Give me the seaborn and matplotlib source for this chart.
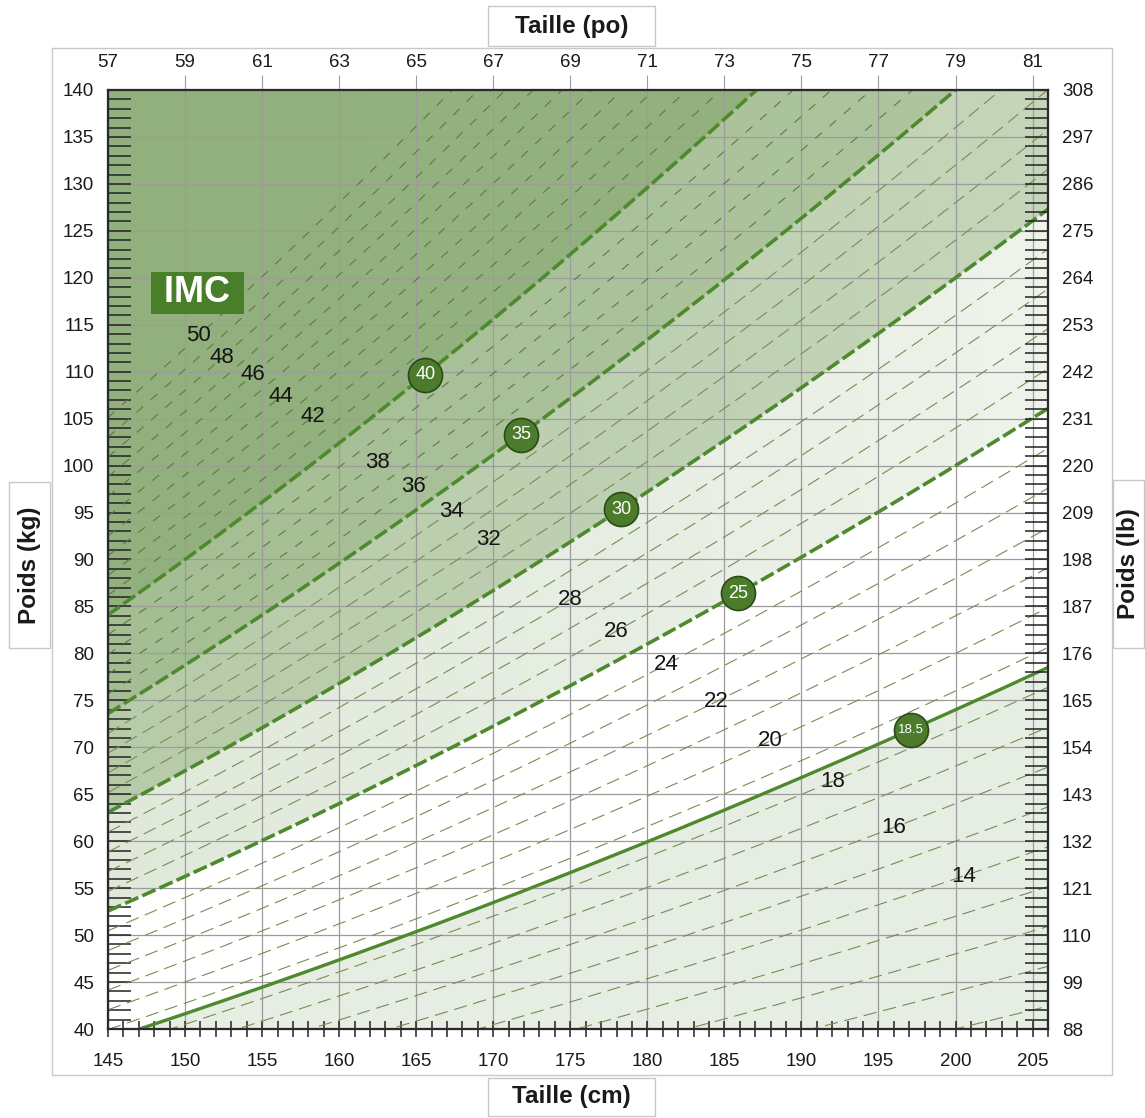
import numpy as np
import pandas as pd
import seaborn as sns
import matplotlib.pyplot as plt
from matplotlib import font_manager
from matplotlib.colors import LinearSegmentedColormap
from matplotlib.patches import Rectangle
from matplotlib.ticker import MultipleLocator

# Axes
taille_cm = list(range(145, 206, 5))
taille_po = [57, 59, 61, 63, 65, 67, 69, 71, 73, 75, 77, 79, 81]
poids_kg = list(range(40, 141, 5))
poids_lb = [88, 99, 110, 121, 132, 143, 154, 165, 176, 187, 198, 209, 220,
            231, 242, 253, 264, 275, 286, 297, 308]

# Lignes d'IMC
imc_fines = [i for i in range(10, 51) if i not in (25, 30, 35, 40)]
imc_tirets = [25, 30, 35, 40]
imc_plein = [18.5]

# Pastilles (IMC et taille ou elles sont posees)
pastille_imc = [40, 35, 30, 25, 18.5]
pastille_taille = [165.6, 171.8, 178.3, 185.9, 197.1]

# Etiquettes numeriques le long des lignes fines
etiq_imc = [50, 48, 46, 44, 42, 38, 36, 34, 32, 28, 26, 24, 22, 20, 18, 16, 14]
etiq_taille = [150.9, 152.4, 154.4, 156.2, 158.3, 162.5, 164.8, 167.3, 169.7,
               175.0, 178.0, 181.2, 184.5, 188.0, 192.0, 196.0, 200.5]

# Teintes des zones (0 = blanc, 1 = vert fonce), a gauche et a droite
zone_min = [0, 18.5, 25, 30, 35, 40]
zone_max = [18.5, 25, 30, 35, 40, 999]
teinte_gauche = [0.2, 0.0, 0.26, 0.6, 0.75, 0.9]
teinte_droite = [0.2, 0.0, 0.14, 0.48, 0.66, 0.88]

XMIN, XMAX, YMIN, YMAX = 145, 206, 40, 140

sns.set_theme(style='white')
plt.rcParams['font.family'] = ['Liberation Sans', 'DejaVu Sans']
noms = {f.name for f in font_manager.fontManager.ttflist}
etroite = 'Liberation Sans Narrow' if 'Liberation Sans Narrow' in noms else 'Liberation Sans'
taille_etiq = 18 if etroite.endswith('Narrow') else 16
taille_past = 14 if etroite.endswith('Narrow') else 13

W, H = 1145, 1118
fig = plt.figure(figsize=(W / 100, H / 100), dpi=100)
ax = fig.add_axes([108 / W, 1 - 1029 / H, 940 / W, 939 / H])

# Fond degrade par zone d'IMC
hx = np.linspace(XMIN, XMAX, 1220)
wy = np.linspace(YMIN, YMAX, 1000)
HH, WW = np.meshgrid(hx, wy)
BMI = WW / (HH / 100) ** 2
frac = (HH - XMIN) / (XMAX - XMIN)
T = np.zeros_like(BMI)
for lo, hi, tg, td in zip(zone_min, zone_max, teinte_gauche, teinte_droite):
    m = (BMI >= lo) & (BMI < hi)
    T[m] = (tg + (td - tg) * frac)[m]
cmap = LinearSegmentedColormap.from_list('vert', ['#ffffff', '#86a86f'])
ax.imshow(T, extent=[XMIN, XMAX, YMIN, YMAX], origin='lower', aspect='auto',
          cmap=cmap, vmin=0, vmax=1, interpolation='bilinear', zorder=0)

# Donnees des courbes
hh = np.linspace(XMIN, XMAX, 300)


def courbes(liste):
    return pd.DataFrame([(b, x, b * (x / 100) ** 2) for b in liste for x in hh],
                        columns=['imc', 'taille', 'poids'])


df_bas = courbes([b for b in imc_fines if b <= 35])
df_haut = courbes([b for b in imc_fines if b > 35])
df_tirets = courbes(imc_tirets)
df_plein = courbes(imc_plein)

sns.lineplot(data=df_bas, x='taille', y='poids', units='imc', estimator=None,
             color='#7a8c52', lw=0.8, linestyle=(0, (12, 6)), ax=ax, legend=False, zorder=2)
sns.lineplot(data=df_haut, x='taille', y='poids', units='imc', estimator=None,
             color='#5f7a3c', lw=0.8, linestyle=(0, (8, 9)), ax=ax, legend=False, zorder=2)
sns.lineplot(data=df_tirets, x='taille', y='poids', units='imc', estimator=None,
             color='#4e8a2d', lw=2.6, linestyle=(0, (4, 1.2)), ax=ax, legend=False, zorder=3)
sns.lineplot(data=df_plein, x='taille', y='poids', units='imc', estimator=None,
             color='#4e8a2d', lw=2.4, ax=ax, legend=False, zorder=3)

# Pastilles
past_poids = [b * (t / 100) ** 2 for b, t in zip(pastille_imc, pastille_taille)]
sns.scatterplot(x=pastille_taille, y=past_poids, s=600, color='#4b7b2b',
                edgecolor='#2b4a19', linewidth=1.2, ax=ax, zorder=5, legend=False)
for b, t, p in zip(pastille_imc, pastille_taille, past_poids):
    txt = f'{b:g}'
    ax.text(t, p, txt, ha='center', va='center', color='white', family=etroite,
            fontsize=taille_past if len(txt) < 3 else taille_past - 3.5, zorder=6)

# Etiquettes des lignes fines
for b, t in zip(etiq_imc, etiq_taille):
    ax.text(t, b * (t / 100) ** 2, str(b), ha='center', va='center', color='#151515',
            family=etroite, fontsize=taille_etiq, zorder=4)

ax.text(150.8, 118.4, ' IMC ', ha='center', va='center', color='white', fontsize=26,
        fontweight='bold', zorder=6,
        bbox=dict(boxstyle='square,pad=0.1', fc='#4a7f2a', ec='none'))

# Axes principaux
ax.set_xlim(XMIN, XMAX)
ax.set_ylim(YMIN, YMAX)
ax.set_xlabel('')
ax.set_ylabel('')
ax.set_xticks(taille_cm)
ax.set_yticks(poids_kg)
ax.xaxis.set_minor_locator(MultipleLocator(1))
ax.yaxis.set_minor_locator(MultipleLocator(1))
ax.set_axisbelow(True)
ax.grid(True, which='major', color='#9c9c9c', lw=0.9)
ax.tick_params(axis='x', which='both', direction='inout', length=11, width=1.1,
               color='#222222', labelsize=13.5, pad=12, labelcolor='#1a1a1a', bottom=True)
ax.tick_params(axis='y', which='both', direction='in', length=16.5, width=1.1,
               color='#222222', labelsize=13.5, pad=10, labelcolor='#1a1a1a', left=True)

ax_r = ax.twinx()
ax_r.set_ylim(YMIN, YMAX)
ax_r.set_yticks(poids_kg, labels=[str(v) for v in poids_lb])
ax_r.yaxis.set_minor_locator(MultipleLocator(1))
ax_r.tick_params(axis='y', which='both', direction='in', length=16.5, width=1.1,
                 color='#222222', labelsize=13.5, pad=10, labelcolor='#1a1a1a', right=True)

ax_t = ax.twiny()
ax_t.set_xlim(XMIN, XMAX)
ax_t.set_xticks(taille_cm, labels=[str(v) for v in taille_po])
ax_t.tick_params(axis='x', which='major', direction='out', length=11, width=0.8,
                 color='#9c9c9c', labelsize=13.5, pad=3, labelcolor='#1a1a1a', top=True)
ax_t.xaxis.get_major_ticks()[0].tick2line.set_visible(False)

for a in (ax, ax_r, ax_t):
    for sp in a.spines.values():
        sp.set_color('#2a2a2a')
        sp.set_linewidth(1.5)

# Cadre general et boites de titres d'axes
fig.add_artist(Rectangle((52 / W, 1 - 1075 / H), 1060 / W, 1027 / H, fill=False,
                         ec='#c8c8c8', lw=1, transform=fig.transFigure))
boites = [
    ('Taille (po)', 488, 6, 655, 46, 0),
    ('Taille (cm)', 488, 1078, 655, 1116, 0),
    ('Poids (kg)', 9, 482, 50, 648, 90),
    ('Poids (lb)', 1113, 480, 1144, 648, 90),
]
for texte, x0, y0, x1, y1, rot in boites:
    fig.add_artist(Rectangle((x0 / W, 1 - y1 / H), (x1 - x0) / W, (y1 - y0) / H,
                             fc='white', ec='#c8c8c8', lw=1, transform=fig.transFigure))
    fig.text((x0 + x1) / 2 / W, 1 - (y0 + y1) / 2 / H, texte, ha='center', va='center',
             rotation=rot, fontsize=17.5, fontweight='bold', color='#1a1a1a')

fig.savefig('out.png', dpi=100)
